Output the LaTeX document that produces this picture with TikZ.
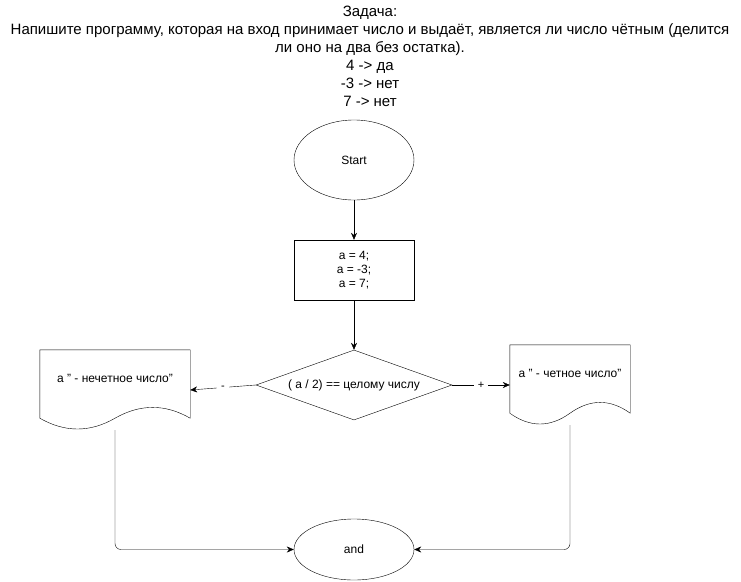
\documentclass[tikz,border=0pt]{standalone}
\usepackage{fontspec}
\setmainfont{Liberation Sans}
\usetikzlibrary{shapes.geometric,arrows.meta}

% document shape: #1 node name, #2 width
\newcommand{\docwave}[2]{%
    \draw (#1.north west) -- (#1.north east) -- ([yshift=12pt]#1.south east)
        .. controls ([xshift=-#2/6,yshift=26.4pt]#1.south east) and ([xshift=-#2/3,yshift=26.4pt]#1.south east) .. ([yshift=12pt]#1.south)
        .. controls ([xshift=-#2/6,yshift=-2.4pt]#1.south) and ([xshift=-#2/3,yshift=-2.4pt]#1.south) .. ([yshift=12pt]#1.south west)
        -- cycle;
}

\tikzset{
    txt/.style={font=\fontsize{12}{14}\selectfont},
    term/.style={txt, draw, ellipse, inner sep=0pt},
    procbox/.style={txt, draw, rectangle, minimum width=120pt, minimum height=60pt, align=center, inner sep=0pt},
    decision/.style={txt, draw, diamond, aspect=2.8, minimum width=196pt, minimum height=70pt, inner sep=0pt},
    docbox/.style={rectangle, inner sep=0pt, minimum height=80pt},
    flow/.style={-{Stealth[length=7pt,width=6pt]}},
    edgelabel/.style={font=\fontsize{11}{13}\selectfont, fill=white, inner xsep=4pt, inner ysep=2pt}
}

\begin{document}
\begin{tikzpicture}[x=1pt,y=-1pt]
    \useasboundingbox (0,0) rectangle (741,581);

    \node[font=\fontsize{15}{18}\selectfont, align=center] (task) at (370,56) {
        Задача:\\
        Напишите программу, которая на вход принимает число и выдаёт, является ли число чётным (делится\\
        ли оно на два без остатка).\\
        4 -> да\\
        -3 -> нет\\
        7 -> нет
    };

    \node[term, minimum width=120pt, minimum height=80pt] (start) at (354,160) {Start};
    \node[procbox] (init) at (354,270) {a = 4;\\ a = -3;\\ a = 7;};
    \node[decision] (cond) at (354,385) {( a / 2) == целому числу};

    \node[docbox, minimum width=150pt, label={[txt, yshift=12pt]center:a " - нечетное число"}] (odd) at (115,390) {};
    \docwave{odd}{150pt}
    \node[docbox, minimum width=120pt, label={[txt, yshift=12pt]center:a " - четное число"}] (even) at (570,385) {};
    \docwave{even}{120pt}

    \node[term, minimum width=120pt, minimum height=61pt] (stop) at (354,549.5) {and};

    \draw[flow] (start) -- (init);
    \draw[flow] (init) -- (cond);
    \draw[flow] (cond.west) -- node[edgelabel] {-} (odd.east);
    \draw[flow] (cond.east) -- node[edgelabel] {+} (even.west);

    \draw[flow, rounded corners=6pt] (odd.south) |- (stop.west);
    \draw[flow, rounded corners=6pt] (even.south) |- (stop.east);

\end{tikzpicture}
\end{document}
